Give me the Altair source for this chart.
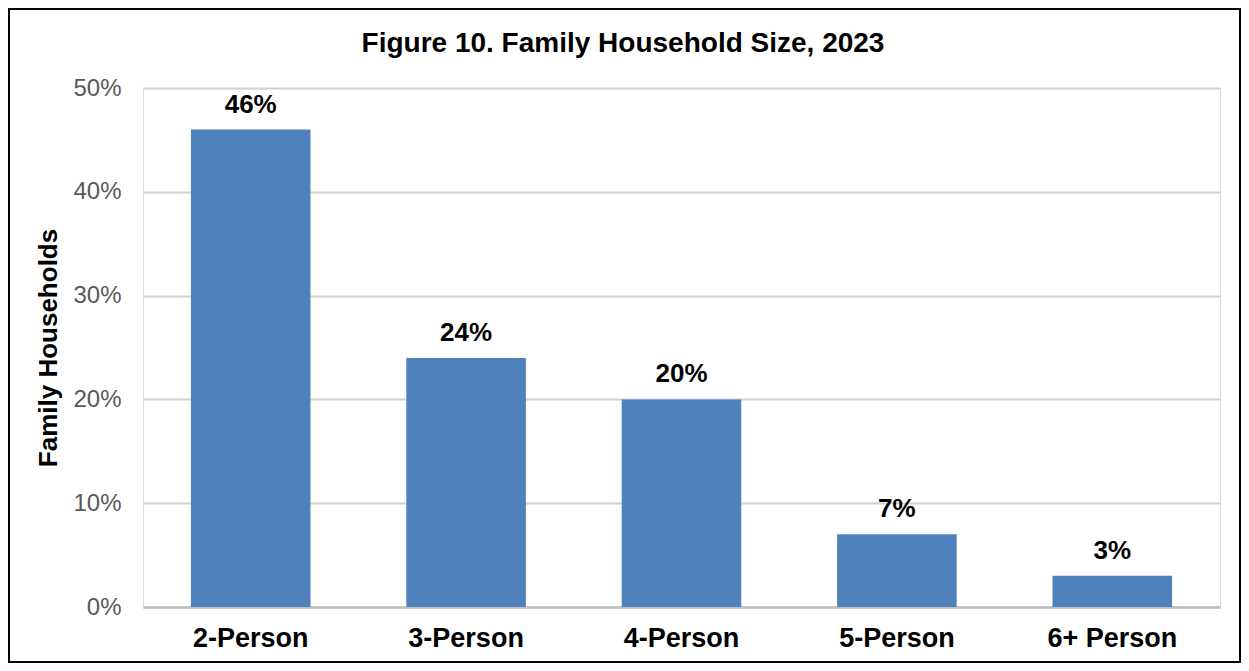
import altair as alt
import pandas as pd

categories = ["2-Person", "3-Person", "4-Person", "5-Person", "6+ Person"]
shares = [0.46, 0.24, 0.20, 0.07, 0.03]
labels = ["46%", "24%", "20%", "7%", "3%"]
title_text = "Figure 10. Family Household Size, 2023"

df = pd.DataFrame({"size": categories, "share": shares, "label": labels})

W, H = 1077, 519
FONT = "Liberation Sans"

x = alt.X("size:N", sort=categories, title=None,
          scale=alt.Scale(paddingInner=0.445, paddingOuter=0.2225),
          axis=alt.Axis(labelAngle=0, labelFont=FONT, labelFontSize=27, labelFontWeight="bold",
                        labelColor="#000000", labelPadding=18, ticks=False, domain=True,
                        domainColor="#bfbfbf", domainWidth=2.5))
y = alt.Y("share:Q", title="Family Households",
          scale=alt.Scale(domain=[0, 0.5]),
          axis=alt.Axis(format=".0%", values=[0, 0.1, 0.2, 0.3, 0.4, 0.5],
                        labelFont=FONT, labelFontSize=24, labelColor="#595959",
                        labelPadding=22, ticks=False, domain=False,
                        grid=True, gridColor="#d0d0d0", gridWidth=2,
                        titleFont=FONT, titleFontSize=26, titleFontWeight="bold",
                        titleColor="#000000", titlePadding=11))

bars = alt.Chart(df).mark_bar(color="#4F81BD").encode(x=x, y=y)

text = alt.Chart(df).mark_text(font=FONT, fontSize=26, fontWeight="bold", color="#000000",
                               baseline="alphabetic", dy=-17).encode(
    x=alt.X("size:N", sort=categories), y="share:Q", text="label:N")

title = alt.Chart(df).transform_filter(alt.datum.size == categories[0]).mark_text(
    text=title_text, font=FONT, fontSize=28, fontWeight="bold", color="#000000",
    baseline="alphabetic", align="center", clip=False).encode(
    x=alt.value(480), y=alt.value(-36))

border = alt.Chart(df).transform_filter(alt.datum.size == categories[0]).mark_rect(
    fill=None, stroke="#000000", strokeWidth=2, clip=False).encode(
    x=alt.value(-134), x2=alt.value(W + 20), y=alt.value(-79), y2=alt.value(H + 55))

chart = alt.layer(bars, text, title, border).properties(
    width=W, height=H,
    autosize=alt.AutoSizeParams(type="none"),
    padding={"left": 135, "top": 80, "right": 21, "bottom": 56},
).configure_view(strokeWidth=0).configure(background="#ffffff")

chart.save("out.html", embed_options={"renderer": "svg", "actions": False})
